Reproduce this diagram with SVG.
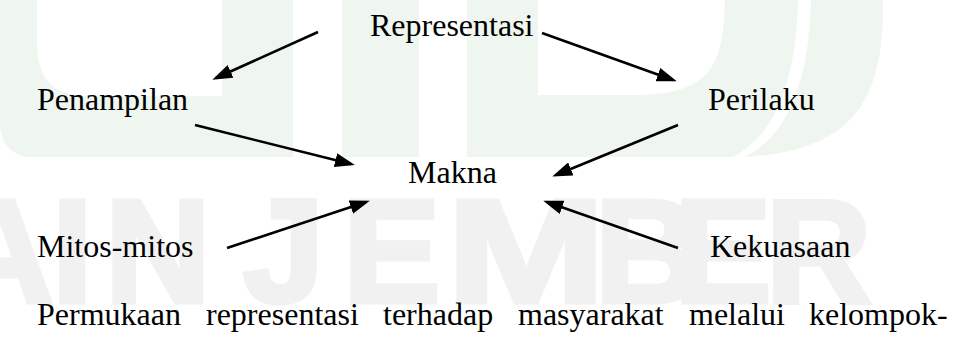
<svg xmlns="http://www.w3.org/2000/svg" width="955" height="337" viewBox="0 0 955 337">
  <style>
    .lbl { font-family: "Liberation Serif", "Times New Roman", serif; font-size: 32px; fill: #000; }
    .wm-green { fill: #eef6ef; }
    .wm-grey { font-family: "Liberation Sans", Arial, sans-serif; font-weight: bold; font-size: 146px; fill: #f1f1f1; stroke: #f1f1f1; stroke-width: 5; stroke-linejoin: miter; }
    .conn { stroke: #000; stroke-width: 2.6; fill: none; marker-end: url(#arrow); }
  </style>
  <defs>
    <marker id="arrow" markerUnits="userSpaceOnUse" markerWidth="20" markerHeight="14" refX="16" refY="7" orient="auto">
      <path d="M0,0 L20,7 L0,14 Z" fill="#000"/>
    </marker>
  </defs>
  <rect width="955" height="337" fill="#fff"/>

  <g id="watermark">
    <path class="wm-green" fill-rule="evenodd" d="M0,0 H293 V157 H25 Q0,150 0,123 Z M37,0 V42 C37,78 52,96 90,96 H222 V0 Z"/>
    <rect class="wm-green" x="342" y="0" width="77" height="157"/>
    <path class="wm-green" fill-rule="evenodd" d="M467,0 H798 Q795,125 733,157 H467 Z M538,0 H725 C724,40 718,60 708,72 C695,88 670,95 635,95 H538 Z"/>
    <path class="wm-green" d="M811,0 H883 C884,100 855,150 745,157 Q808,125 811,0 Z"/>
    <text class="wm-grey" x="-52 52 105" y="302">AIN</text>
    <text class="wm-grey" x="243 343" y="302">JE</text>
    <text class="wm-grey" transform="translate(447,302) scale(1.3,1)" x="0" y="0">M</text>
    <text class="wm-grey" x="595 674 766" y="302">BER</text>
  </g>

  <g id="connectors">
    <line class="conn" x1="318" y1="32" x2="216" y2="78"/>
    <line class="conn" x1="542" y1="33" x2="673" y2="80"/>
    <line class="conn" x1="195" y1="125" x2="351" y2="164"/>
    <line class="conn" x1="678" y1="125" x2="556" y2="175"/>
    <line class="conn" x1="227" y1="248" x2="366" y2="202"/>
    <line class="conn" x1="678" y1="248" x2="547" y2="202"/>
  </g>

  <g id="node-representasi"><text class="lbl" x="370" y="36">Representasi</text></g>
  <g id="node-penampilan"><text class="lbl" x="37" y="110">Penampilan</text></g>
  <g id="node-perilaku"><text class="lbl" x="708" y="110">Perilaku</text></g>
  <g id="node-makna"><text class="lbl" x="408" y="183">Makna</text></g>
  <g id="node-mitos"><text class="lbl" x="37" y="257">Mitos-mitos</text></g>
  <g id="node-kekuasaan"><text class="lbl" x="710" y="257">Kekuasaan</text></g>

  <g id="caption">
    <text class="lbl" y="325"><tspan x="37">Permukaan</tspan><tspan x="206">representasi</tspan><tspan x="383">terhadap</tspan><tspan x="518">masyarakat</tspan><tspan x="689">melalui</tspan><tspan x="809">kelompok-</tspan></text>
  </g>
</svg>
